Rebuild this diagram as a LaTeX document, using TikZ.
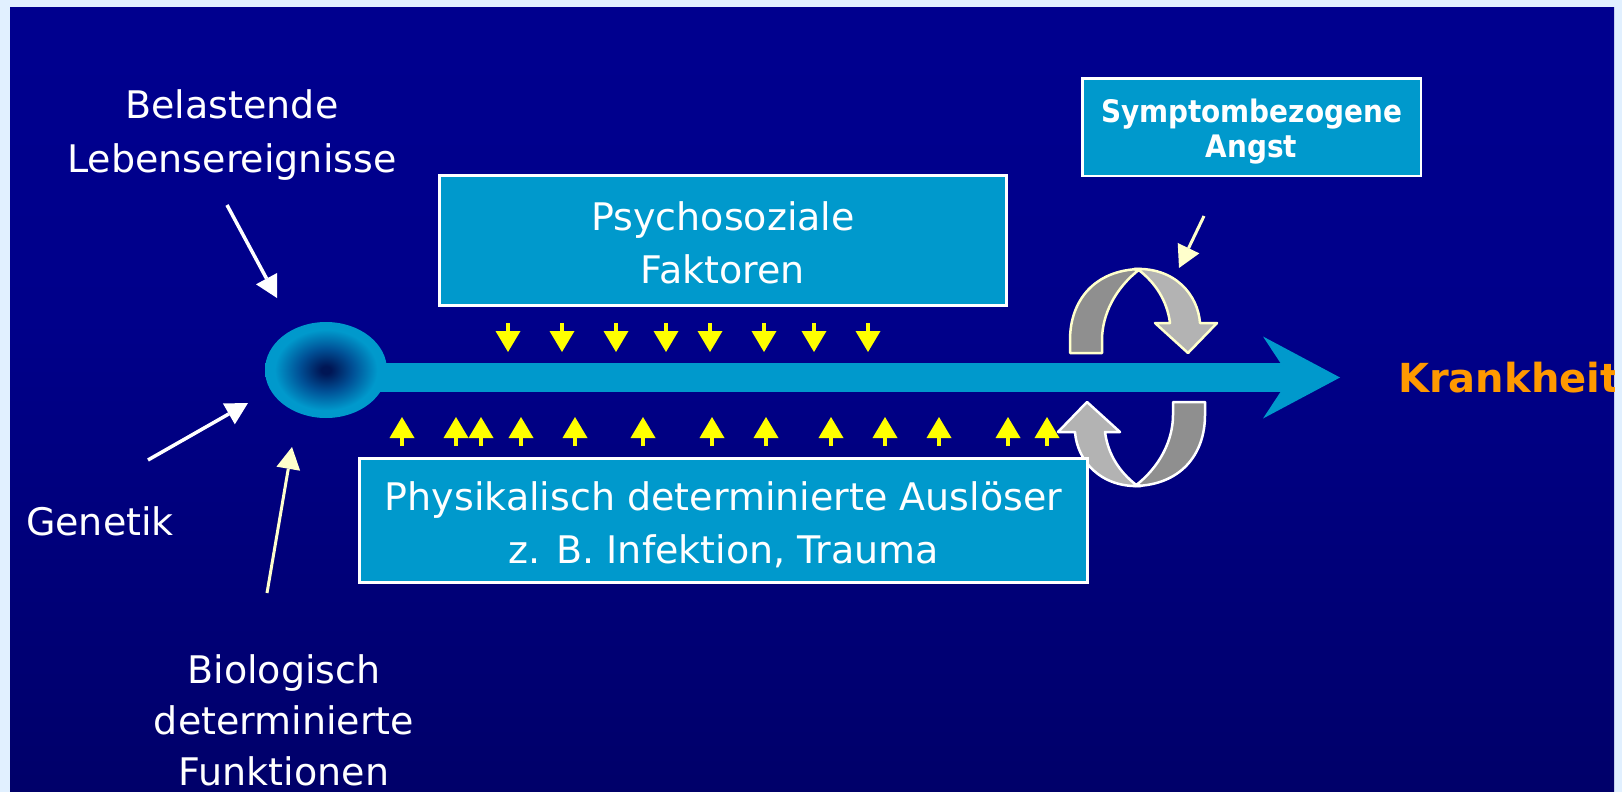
\documentclass[tikz,border=0pt]{standalone}
\usepackage{fontspec}
\setmainfont{DejaVu Sans}
\newfontfamily\symfont[FakeStretch=0.9]{DejaVu Sans}
\usetikzlibrary{arrows.meta,shapes.geometric}
\definecolor{lightrim}{RGB}{225,240,255}
\definecolor{bgtop}{RGB}{0,0,148}
\definecolor{bgmid}{RGB}{0,0,138}
\definecolor{bgbot}{RGB}{0,0,78}
\definecolor{cyanbox}{RGB}{0,153,204}
\definecolor{blobc}{RGB}{0,22,85}
\definecolor{blobm}{RGB}{0,80,150}
\definecolor{ylw}{RGB}{255,255,0}
\definecolor{orng}{RGB}{255,153,0}
\definecolor{cream}{RGB}{255,255,204}
\definecolor{grayd}{RGB}{143,143,143}
\definecolor{grayl}{RGB}{179,179,179}
\pgfdeclareverticalshading{bgshade}{100bp}{color(0bp)=(bgbot); color(55bp)=(bgmid); color(100bp)=(bgtop)}
\pgfdeclareradialshading{blobshade}{\pgfpoint{0bp}{0bp}}{color(0bp)=(blobc); color(2bp)=(blobc); color(11bp)=(blobm); color(21bp)=(cyanbox); color(50bp)=(cyanbox)}
\newcommand{\twoline}[2]{\begin{tabular}[t]{@{}c@{}}#1\\#2\end{tabular}}
\newcommand{\threeline}[3]{\begin{tabular}[t]{@{}c@{}}#1\\#2\\#3\end{tabular}}
\newcommand{\curlshape}[1]{%
  \draw[gdark, draw=#1] (1070,353) -- (1070,340) .. controls (1070,300) and (1095,270) .. (1140,269)
     .. controls (1115,288) and (1102,315) .. (1102,340) -- (1102,353) -- cycle;
  \draw[glight, draw=#1] (1134,269) .. controls (1175,267) and (1198,295) .. (1200,323)
     -- (1217,323) -- (1188,353) -- (1155,323) -- (1170,323)
     .. controls (1167,300) and (1155,283) .. (1140,271) -- cycle;}
\tikzset{
  txt/.style={text=white, inner sep=0pt, font=\fontsize{38}{53}\selectfont},
  cbox/.style={fill=cyanbox, draw=white, line width=3pt, text=white, inner sep=0pt, align=center, font=\fontsize{38}{53}\selectfont},
  warrow/.style={line width=3.5pt, -{Triangle[length=22pt,width=24pt,line width=0pt]}},
  ydown/.style={draw=ylw, line width=4pt, -{Triangle[length=21pt,width=25pt,line width=0pt]}},
  gdark/.style={fill=grayd, line width=2.5pt, line join=round},
  glight/.style={fill=grayl, line width=2.5pt, line join=round},
  mainbar/.style={draw=cyanbox, line width=29pt, -{Stealth[length=77pt,width=82pt,inset=27pt,line width=0pt]}}
}
\begin{document}
\begin{tikzpicture}[x=1pt,y=-1pt]
\useasboundingbox (0,0) rectangle (1622,792);
\fill[lightrim] (0,0) rectangle (1622,792);
\shade[shading=bgshade] (10,8) rectangle (1614,792);

% free texts
\node[txt, font=\fontsize{38}{54}\selectfont, anchor=base] (belast) at (232,118) {\twoline{Belastende}{Lebensereignisse}};
\node[txt, anchor=base] (genetik) at (100,535) {Genetik};
\node[txt, font=\fontsize{38}{51}\selectfont, anchor=base] (bio) at (284,683) {\threeline{Biologisch}{determinierte}{Funktionen}};

% white / cream arrows
\coordinate (b1) at (227,205); \coordinate (b2) at (277,298);
\coordinate (g1) at (148,460); \coordinate (g2) at (248,403);
\coordinate (f1) at (267,593); \coordinate (f2) at (292,447);
\coordinate (s1) at (1204,216); \coordinate (s2) at (1179,268);
\draw[warrow, draw=white] (b1) -- (b2);
\draw[warrow, draw=white] (g1) -- (g2);
\draw[warrow, draw=cream, line width=3pt] (f1) -- (f2);
\draw[warrow, draw=cream, line width=3pt] (s1) -- (s2);

% main bar
\coordinate (barstart) at (360,377.5);
\coordinate (bartip) at (1340,377.5);
\draw[mainbar] (barstart) -- (bartip);
\node[ellipse, minimum width=122pt, minimum height=96pt, inner sep=0pt, shading=blobshade] (blob) at (326,370) {};

% yellow arrows
\foreach \x in {508,562,616,666,710,764,814,868} \draw[ydown] (\x,323) -- (\x,352);
\foreach \x in {402,456,481,521,575,643,712,766,831,885,939,1008,1047} \draw[ydown] (\x,446) -- (\x,417);

% curved arrows
\curlshape{cream}
\begin{scope}[rotate around={180:(1137.5,377.5)}]
\curlshape{white}
\end{scope}

% boxes
\node[cbox, minimum width=567pt, minimum height=130pt, text height=30pt, text depth=51pt] (psycho) at (723,240.5) {\twoline{Psychosoziale}{Faktoren}};
\node[cbox, minimum width=728pt, minimum height=124pt, text height=30pt, text depth=51pt] (phys) at (723.5,520.5) {\twoline{Physikalisch determinierte Auslöser}{z. B. Infektion, Trauma}};
\node[cbox, line width=2.5pt, minimum width=338.5pt, minimum height=97.5pt, text height=24pt, text depth=34pt, font=\symfont\bfseries\fontsize{31}{35}\selectfont] (angst) at (1251.5,127) {\twoline{Symptombezogene}{Angst}};

\begin{scope}
\clip (10,8) rectangle (1614,792);
\node[txt, text=orng, font=\bfseries\fontsize{40}{48}\selectfont, anchor=base west] (krank) at (1398,392) {Krankheit};
\end{scope}
\end{tikzpicture}
\end{document}
